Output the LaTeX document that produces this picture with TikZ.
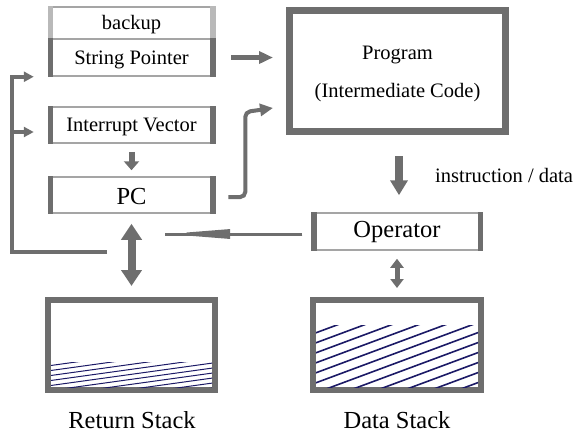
\documentclass[tikz,border=0pt]{standalone}
\usepackage{fontspec}
\setmainfont{Liberation Serif}
\usetikzlibrary{arrows.meta}
\definecolor{boxgray}{RGB}{110,110,110}
\definecolor{linegray}{RGB}{165,165,165}
\definecolor{backupgray}{RGB}{185,185,185}
\definecolor{hatchblue}{RGB}{28,26,102}
\tikzset{
  regbox/.style={draw=linegray, line width=1.5pt, minimum width=166pt, inner sep=0pt,
    font=\fontsize{20.5}{24}\selectfont, text height=15pt, text depth=2pt},
  bigreg/.style={font=\fontsize{24.5}{28}\selectfont},
  stackbox/.style={draw=boxgray, line width=6pt, minimum width=167pt, minimum height=90pt},
  sidebar/.style={draw=boxgray, line width=5.5pt},
  pipe/.style={draw=boxgray, line width=#1},
  biglabel/.style={font=\fontsize{24.5}{28}\selectfont, inner sep=0pt, text height=17pt, text depth=0pt},
}
\begin{document}
\begin{tikzpicture}[x=1pt,y=-1pt]
  \useasboundingbox (0,0) rectangle (576,432);

  % registers
  \node[regbox, minimum height=32pt] (bu) at (131.5,23) {backup};
  \node[regbox, minimum height=37pt] (sp) at (131.5,57.5) {String Pointer};
  \node[regbox, minimum height=36pt] (iv) at (131.5,125) {Interrupt Vector};
  \node[regbox, bigreg, minimum height=36pt, text height=18pt, text depth=0pt] (pc) at (131.5,195) {PC};
  \node[regbox, bigreg, minimum height=37pt, minimum width=170pt, text height=17pt, text depth=6pt] (op) at (397,231.5) {Operator};

  \draw[sidebar, backupgray] ([xshift=2.5pt]bu.south west) -- ([xshift=2.5pt]bu.north west);
  \draw[sidebar, backupgray] ([xshift=-2.5pt]bu.south east) -- ([xshift=-2.5pt]bu.north east);
  \foreach \n in {sp, iv, pc, op} {
    \draw[sidebar] ([xshift=2.5pt]\n.south west) -- ([xshift=2.5pt]\n.north west);
    \draw[sidebar] ([xshift=-2.5pt]\n.south east) -- ([xshift=-2.5pt]\n.north east);
  }

  % program
  \node[draw=boxgray, line width=7pt, minimum width=216pt, minimum height=121pt, align=center,
    font=\fontsize{20.5}{38}\selectfont] (prog) at (397.5,71) {\rule{0pt}{20pt}Program\\(Intermediate Code)};

  % stacks
  \node[stackbox] (rs) at (131.5,345) {};
  \node[stackbox, minimum width=168pt] (ds) at (397,345) {};
  \begin{scope}
    \clip (51,362) rectangle (212,387);
    \foreach \k in {0,...,12}
      \draw[hatchblue, line width=1pt] (40,362+5*\k) -- ++(180,-25);
  \end{scope}
  \begin{scope}
    \clip (316,325) rectangle (478,387);
    \foreach \k in {0,...,13}
      \draw[hatchblue, line width=1.6pt] (310,325+10*\k) -- ++(175,-65);
  \end{scope}
  \node[biglabel] (rslabel) at (132,420) {Return Stack};
  \node[biglabel] (dslabel) at (397,420) {Data Stack};

  % connectors
  \draw[pipe=5pt, -{Triangle[length=14pt,width=12pt]}] ([xshift=16pt]sp.east) -- ([xshift=-13pt]prog.west |- sp.east);
  \draw[pipe=4pt, rounded corners=5pt, -{Triangle[length=13pt,width=12pt]}]
    ([xshift=13pt,yshift=-2pt]pc.east) -- ++(17,0) -- ++(0,-85) -- ([xshift=-13pt,yshift=-37pt]prog.west);
  \draw[pipe=6pt, -{Triangle[length=9pt,width=15pt]}] ([yshift=-8pt]iv.south) -- ([yshift=6pt]pc.north);
  \draw[pipe=8pt, -{Triangle[length=15pt,width=17pt]}] ([xshift=1.5pt,yshift=-21pt]prog.south) -- ([xshift=2pt,yshift=17pt]op.north);
  \node[font=\fontsize{20.5}{24}\selectfont, anchor=west, inner sep=0pt, text height=14pt, text depth=0pt] (lbl) at (435,175.5) {instruction / data};

  \coordinate (retin) at (165,234);
  \draw[pipe=3pt, postaction={draw, -{Triangle[length=65pt,width=9pt]}}] ([xshift=-9pt,yshift=-2.5pt]op.west) -- (retin);

  \draw[pipe=8pt, {Triangle[length=16pt,width=20pt]}-{Triangle[length=16pt,width=20pt]}]
    ([yshift=-10pt]pc.south) -- ([yshift=11pt]rs.north);
  \draw[pipe=5pt, {Triangle[length=9pt,width=13pt]}-{Triangle[length=9pt,width=13pt]}]
    ([yshift=-8pt]op.south) -- ([yshift=9pt]ds.north);

  % loop back
  \coordinate (loopend) at (107,252);
  \coordinate (loopcorner) at (12,252);
  \draw[pipe=4.5pt, -{Triangle[length=10pt,width=10pt]}] (loopend) -- (loopcorner) |- ([xshift=-14pt]sp.south west);
  \draw[pipe=4.5pt, -{Triangle[length=10pt,width=10pt]}] ([yshift=-7pt]loopcorner |- iv.west) -- ([xshift=-14pt,yshift=-7pt]iv.west);
\end{tikzpicture}
\end{document}
